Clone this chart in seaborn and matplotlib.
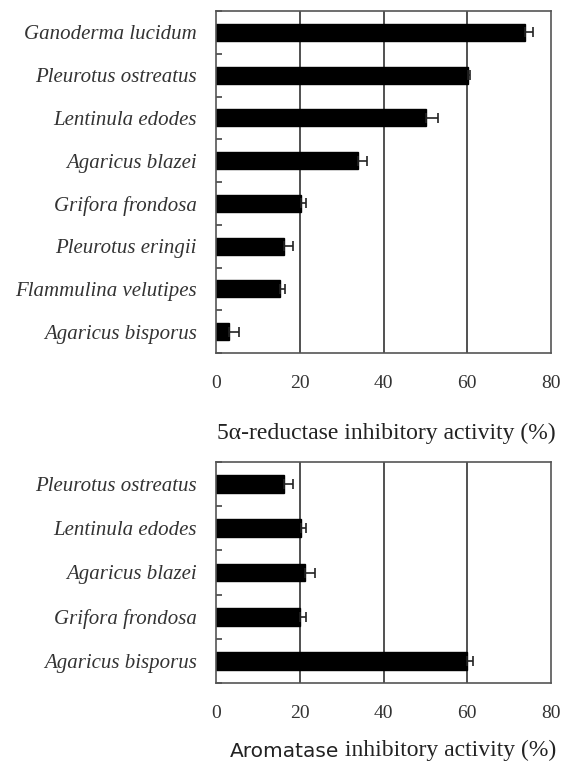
"""Mushroom extracts: 5a-reductase and aromatase inhibitory activity."""

import numpy as np
import matplotlib
matplotlib.use('Agg')
import matplotlib.pyplot as plt
import seaborn as sns

reductase_species = [
    'Ganoderma lucidum', 'Pleurotus ostreatus', 'Lentinula edodes',
    'Agaricus blazei', 'Grifora frondosa', 'Pleurotus eringii',
    'Flammulina velutipes', 'Agaricus bisporus',
]
reductase_values = [73.8, 60.1, 50.1, 33.9, 20.2, 16.2, 15.3, 3.1]
reductase_errors = [2.0, 0.5, 3.0, 2.2, 1.3, 2.2, 1.1, 2.5]

aromatase_species = [
    'Pleurotus ostreatus', 'Lentinula edodes', 'Agaricus blazei',
    'Grifora frondosa', 'Agaricus bisporus',
]
aromatase_values = [16.2, 20.2, 21.3, 20.0, 60.0]
aromatase_errors = [2.2, 1.4, 2.3, 1.4, 1.4]

x_ticks = [0, 20, 40, 60, 80]

sns.set_style('white')
plt.rcParams['font.family'] = ['Liberation Serif', 'DejaVu Serif']

W, H = 564, 773
fig = plt.figure(figsize=(W / 100, H / 100), dpi=100)


def px_axes(left, top, right, bottom):
    return fig.add_axes([left / W, 1 - bottom / H, (right - left) / W, (bottom - top) / H])


def draw_panel(ax, names, values, errors):
    sns.barplot(x=values, y=names, orient='h', color='black', width=0.4,
                edgecolor='black', saturation=1, errorbar=None, ax=ax)
    pos = np.arange(len(names))
    # only the right half of each error bar shows beside the black bar
    ax.errorbar(values, pos, xerr=[np.zeros(len(errors)), errors], fmt='none',
                ecolor='#222222', elinewidth=1.2, capsize=3.5, capthick=1.2, zorder=4)
    ax.set_xlim(0, 80)
    ax.set_ylim(len(names) - 0.5, -0.5)
    ax.set_xticks(x_ticks)
    ax.set_xticklabels([str(t) for t in x_ticks], fontsize=14, color='#333333')
    ax.tick_params(axis='x', length=0, pad=16)
    ax.tick_params(axis='y', which='major', length=0, pad=14)
    for lab in ax.get_yticklabels():
        lab.set_fontstyle('italic')
        lab.set_fontsize(15)
        lab.set_color('#333333')
    ax.set_yticks(np.arange(len(names) + 1) - 0.5, minor=True)
    ax.tick_params(axis='y', which='minor', direction='in', length=4,
                   width=1.2, color='#444444', left=True)
    for x in x_ticks[1:-1]:
        ax.axvline(x, color='#222222', lw=1.1, zorder=0.5)
    for sp in ax.spines.values():
        sp.set_color('#555555')
        sp.set_linewidth(1.2)
    ax.set_xlabel('')
    ax.set_ylabel('')


ax1 = px_axes(216, 11, 551, 353)
draw_panel(ax1, reductase_species, reductase_values, reductase_errors)

ax2 = px_axes(216, 462, 551, 683)
draw_panel(ax2, aromatase_species, aromatase_values, aromatase_errors)

fig.text(386 / W, 1 - 433 / H, '5\u03b1-reductase inhibitory activity (%)',
         ha='center', va='center', fontsize=17, color='#222222')

t1 = fig.text(230 / W, 1 - 757 / H, 'Aromatase', ha='left', va='baseline',
              fontsize=14.5, family='DejaVu Sans', color='#222222')
ax2.annotate(' inhibitory activity (%)', xy=(1, 0), xycoords=t1,
             ha='left', va='bottom', fontsize=17, color='#222222',
             annotation_clip=False)

fig.savefig('out.png', dpi=100)
